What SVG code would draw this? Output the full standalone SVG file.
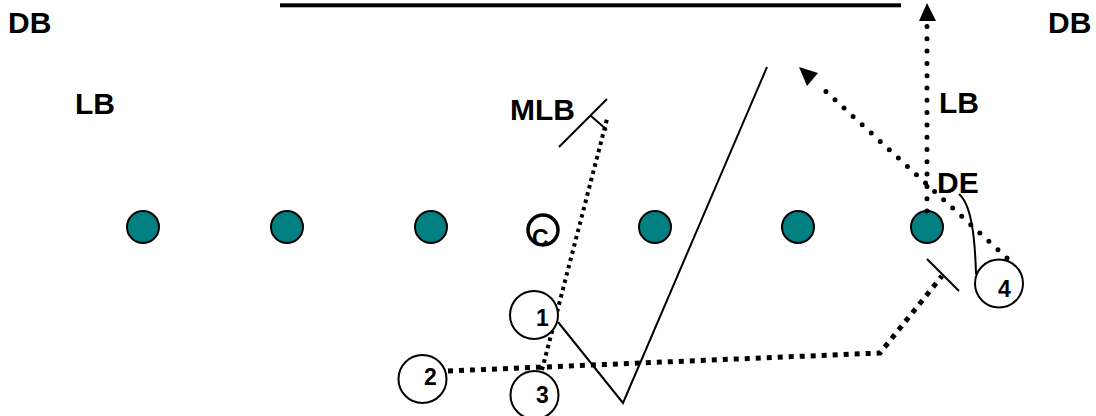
<svg xmlns="http://www.w3.org/2000/svg" width="1096" height="416" viewBox="0 0 1096 416">
<style>
.lbl{font-family:"Liberation Sans",Arial,sans-serif;font-weight:bold;font-size:30px;fill:#000}
.num{font-family:"Liberation Sans",Arial,sans-serif;font-weight:bold;font-size:23px;fill:#000}
.lineman{fill:#008080;stroke:#000;stroke-width:2}
.player{fill:#fff;stroke:#000;stroke-width:2}
.solid{fill:none;stroke:#000;stroke-width:2}
.sq{fill:none;stroke:#000;stroke-width:4;stroke-dasharray:3.5 4}
.thick{fill:none;stroke:#000;stroke-width:5;stroke-dasharray:5 6}
.round{fill:none;stroke:#000;stroke-width:5;stroke-linecap:round;stroke-dasharray:0 12.3}
.head{fill:#000}
</style>
<rect width="1096" height="416" fill="#fff"/>
<rect x="280" y="3.3" width="621" height="4" fill="#000"/>
<g id="labels">
<text class="lbl" x="8" y="33">DB</text>
<text class="lbl" x="1048" y="33">DB</text>
<text class="lbl" x="75" y="114">LB</text>
<text class="lbl" x="939" y="113">LB</text>
<text class="lbl" x="510" y="120">MLB</text>
<text class="lbl" x="937" y="193">DE</text>
</g>
<g id="line">
<circle id="lt" class="lineman" cx="143" cy="227" r="16"/>
<circle id="lg" class="lineman" cx="287" cy="227" r="16"/>
<circle id="lg2" class="lineman" cx="431" cy="227" r="16"/>
<g id="center"><circle cx="543" cy="230" r="15" fill="none" stroke="#000" stroke-width="3.5"/><text class="num" x="532" y="246" font-size="22">C</text></g>
<circle id="rg" class="lineman" cx="655" cy="227" r="16"/>
<circle id="rt" class="lineman" cx="798" cy="227" r="16"/>
<circle id="de" class="lineman" cx="927" cy="227" r="16"/>
</g>
<g id="connectors">
<path class="sq" d="M542 370 L607 119"/>
<path class="solid" d="M559 147 L607 99 M591 116 L607 130"/>
<path class="solid" d="M558 322 L623 403 L767 67"/>
<path class="thick" d="M448 371 L880 353 L942 276"/>
<path class="solid" d="M927 259 L959 291"/>
<path class="round" d="M927 211 L927 22"/>
<polygon class="head" points="927,3 919,21 936,21"/>
<path class="round" d="M1007 258 L820 86"/>
<polygon class="head" points="799,67 818,73 807,86"/>
<path class="solid" d="M976 274 C975 240 972 205 959 194"/>
</g>
<g id="p1"><circle class="player" cx="534" cy="315" r="24"/><text class="num" x="536" y="326">1</text></g>
<g id="p2"><circle class="player" cx="422.5" cy="379" r="24"/><text class="num" x="424" y="385">2</text></g>
<g id="p3"><circle class="player" cx="534.5" cy="395" r="24"/><text class="num" x="536" y="403">3</text></g>
<g id="p4"><circle class="player" cx="999" cy="283.5" r="24"/><text class="num" x="998" y="297">4</text></g>
</svg>
